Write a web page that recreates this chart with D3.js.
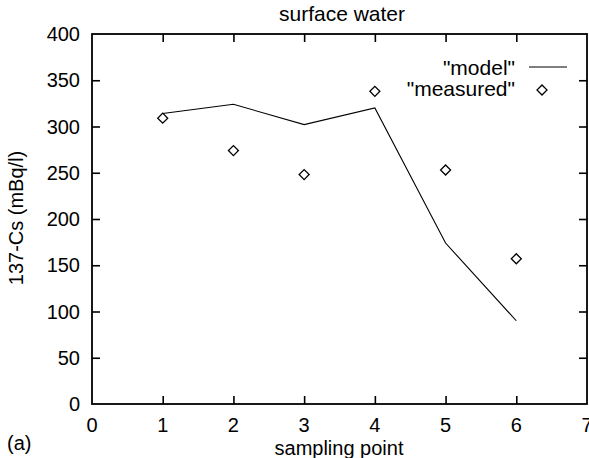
<!DOCTYPE html>
<html>
<head>
<meta charset="utf-8">
<script src="https://cdn.jsdelivr.net/npm/d3@7"></script>
<style>
  body { margin: 0; background: #fff; }
  text { font-family: "Liberation Sans", Arial, sans-serif; fill: #000; }
</style>
</head>
<body>
<svg id="chart" width="589" height="458"></svg>
<script>
// sampling points and values
var points = [1, 2, 3, 4, 5, 6];
var model = [314, 324, 302, 320, 174, 90];
var measured = [309, 274, 248, 338, 253, 157];
var xTicks = [0, 1, 2, 3, 4, 5, 6, 7];
var yTicks = [0, 50, 100, 150, 200, 250, 300, 350, 400];

var svg = d3.select("#chart");
var plotL = 92, plotR = 587, plotT = 34, plotB = 404;

var x = d3.scaleLinear().domain([0, 7]).range([plotL, plotR]);
var y = d3.scaleLinear().domain([0, 400]).range([plotB, plotT]);

// mirrored inner ticks, gnuplot style
var tk = 8;
svg.append("g").attr("transform", "translate(0," + plotB + ")")
	.call(d3.axisTop(x).tickValues(xTicks.slice(1, -1)).tickSize(tk).tickFormat(""));
svg.append("g").attr("transform", "translate(0," + plotT + ")")
	.call(d3.axisBottom(x).tickValues(xTicks.slice(1, -1)).tickSize(tk).tickFormat(""));
svg.append("g").attr("transform", "translate(" + plotL + ",0)")
	.call(d3.axisRight(y).tickValues(yTicks.slice(1, -1)).tickSize(tk).tickFormat(""));
svg.append("g").attr("transform", "translate(" + plotR + ",0)")
	.call(d3.axisLeft(y).tickValues(yTicks.slice(1, -1)).tickSize(tk).tickFormat(""));
svg.selectAll(".domain").remove();
svg.selectAll(".tick line").attr("stroke", "#000").attr("stroke-width", 1.6);

// frame
svg.append("rect")
	.attr("x", plotL).attr("y", plotT)
	.attr("width", plotR - plotL).attr("height", plotB - plotT)
	.attr("fill", "none").attr("stroke", "#000").attr("stroke-width", 1.8);

// tick labels
svg.selectAll(".xlab").data(xTicks).enter().append("text")
	.attr("x", function(d){ return x(d); })
	.attr("y", plotB + 28)
	.attr("text-anchor", "middle")
	.style("font-size", "20px")
	.text(function(d){ return d; });

svg.selectAll(".ylab").data(yTicks).enter().append("text")
	.attr("x", plotL - 12)
	.attr("y", function(d){ return y(d) + 7; })
	.attr("text-anchor", "end")
	.style("font-size", "20px")
	.text(function(d){ return d; });

// titles
svg.append("text").attr("x", 342).attr("y", 21).attr("text-anchor", "middle")
	.style("font-size", "21px").text("surface water");
svg.append("text").attr("x", 339).attr("y", 455).attr("text-anchor", "middle")
	.style("font-size", "20px").text("sampling point");
svg.append("text").attr("x", 7).attr("y", 450)
	.style("font-size", "20px").text("(a)");
svg.append("text")
	.attr("transform", "translate(23,218) rotate(-90)")
	.attr("text-anchor", "middle")
	.style("font-size", "20px").text("137-Cs (mBq/l)");

// model line
var line = d3.line()
	.x(function(d, i){ return x(points[i]); })
	.y(function(d){ return y(d); });
svg.append("path").datum(model)
	.attr("d", line)
	.attr("fill", "none").attr("stroke", "#000").attr("stroke-width", 1.1);

// measured diamonds
var diamond = d3.symbol().type(d3.symbolSquare).size(50);
svg.selectAll(".pt").data(measured).enter().append("path")
	.attr("d", diamond)
	.attr("transform", function(d, i){ return "translate(" + x(points[i]) + "," + y(d) + ") rotate(45)"; })
	.attr("fill", "none").attr("stroke", "#000").attr("stroke-width", 1.3);

// legend
svg.append("text").attr("x", 515).attr("y", 75).attr("text-anchor", "end")
	.style("font-size", "21px").text('"model"');
svg.append("line").attr("x1", 529).attr("x2", 567).attr("y1", 67).attr("y2", 67)
	.attr("stroke", "#000").attr("stroke-width", 1.1);
svg.append("text").attr("x", 515).attr("y", 96).attr("text-anchor", "end")
	.style("font-size", "21px").text('"measured"');
svg.append("path").attr("d", diamond)
	.attr("transform", "translate(542,90) rotate(45)")
	.attr("fill", "none").attr("stroke", "#000").attr("stroke-width", 1.3);
</script>
</body>
</html>
